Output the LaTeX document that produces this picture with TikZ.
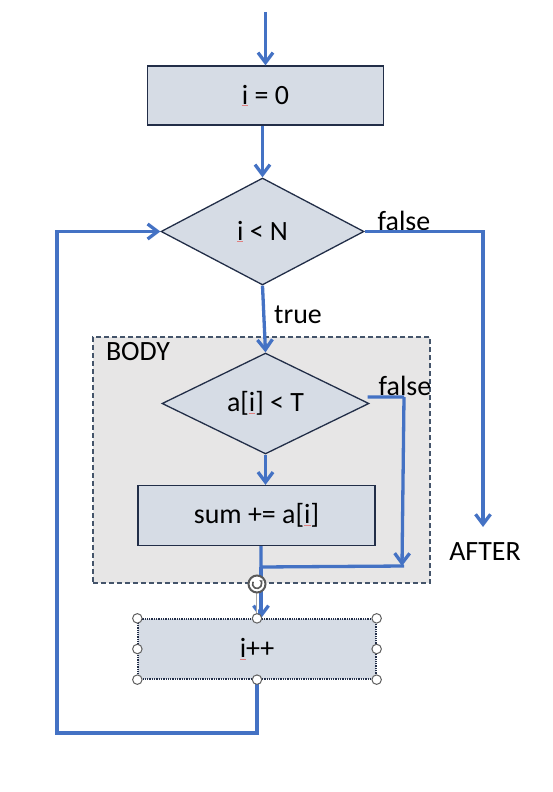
\documentclass[tikz,border=0pt]{standalone}
\usepackage{fontspec}
\setmainfont{Carlito}
\usetikzlibrary{shapes.geometric,arrows.meta}
\definecolor{lineblue}{HTML}{4472C4}
\definecolor{boxfill}{HTML}{D6DCE5}
\definecolor{boxline}{HTML}{222E48}
\definecolor{bodyfill}{HTML}{E7E6E6}
\definecolor{bodyline}{HTML}{44546A}
\definecolor{squig}{HTML}{E08080}
\newcommand{\sqi}{{\color{squig}\underline{\color{black}i}}}
\begin{document}
\begin{tikzpicture}[x=1bp,y=-1bp,
  every node/.style={font=\fontsize{28}{33}\selectfont},
  procbox/.style={draw=boxline, fill=boxfill, line width=1.3bp, inner sep=0pt},
  decbox/.style={diamond, draw=boxline, fill=boxfill, line width=1.3bp, inner sep=0pt},
  bodybox/.style={draw=bodyline, fill=bodyfill, dash pattern=on 5bp off 3bp, line width=1.3bp, inner sep=0pt},
  flow/.style={draw=lineblue, line width=3.3bp, -{Straight Barb[length=10bp,width=15bp,line width=3.3bp]}},
  plain/.style={draw=lineblue, line width=3.3bp},
  lbl/.style={inner sep=0pt, anchor=center},
  handle/.style={circle, draw=gray!75!black, fill=white, line width=1bp, minimum size=9.5bp, inner sep=0pt}]
\useasboundingbox (0,0) rectangle (553,792);

% BODY container
\node[bodybox, minimum width=337bp, minimum height=246bp] (body) at (261.5,460) {};
\node[lbl] (bodylbl) at (138,352) {BODY};

% nodes
\node[procbox, minimum width=236bp, minimum height=59bp] (init) at (265.5,95.5) {\sqi{} = 0};
\node[decbox, minimum width=203bp, minimum height=107bp] (cond) at (262.5,231.5) {\sqi{} < N};
\node[decbox, minimum width=207bp, minimum height=89bp] (inner) at (265.5,403.5) {a[\sqi] < T};
\node[procbox, minimum width=237bp, minimum height=60bp] (sum) at (256.5,515.5) {sum += a[\sqi]};
\node[procbox, draw=boxline, densely dotted, minimum width=238bp, minimum height=60bp] (inc) at (257,649) {\sqi++};

% labels
\node[lbl] (f1) at (404,221) {false};
\node[lbl] (t1) at (298,315) {true};
\node[lbl] (f2) at (405,386) {false};
\node[lbl] (after) at (485,552) {AFTER};

% coordinates
\coordinate (start) at (265.5,12);
\coordinate (afterpt) at (483,527);
\coordinate (fj) at (404,397);
\coordinate (merge) at (402,566);
\coordinate (join) at (261,567);
\coordinate (lb) at (57,733);

% connectors
\draw[flow] (start) -- (start |- init.north);
\draw[flow] (init.south -| cond.north) -- (cond.north);
\draw[flow] (cond.east) -| (afterpt);
\draw[flow] (cond.south) -- (inner.north);
\draw[flow] (inner.south) -- (inner.south |- sum.north);
\draw[plain] ([xshift=-2bp,yshift=6.5bp]inner.east) -- (fj);
\draw[flow] (fj) -- (merge);
\draw[plain] (sum.south -| join) -- (join) -- (merge -| fj);
\draw[flow] (join) -- (join |- inc.north);
\draw[flow] (inc.south) |- (lb) |- (cond.west);

% selection handles
\draw[gray!70, line width=0.8bp, double] (257,592) -- (257,616);
\node[circle, draw=gray!70!black, fill=white, line width=2bp, minimum size=17bp, inner sep=0pt] (rot) at (257,584) {};
\draw[gray!70!black, line width=1.6bp, -{Stealth[length=4bp]}] (rot.center) ++(150:4.5bp) arc[start angle=150, end angle=420, radius=4.5bp];
\foreach \a [count=\i] in {north west, north, north east, west, east, south west, south, south east}
  \node[handle] (h\i) at (inc.\a) {};
\end{tikzpicture}
\end{document}
